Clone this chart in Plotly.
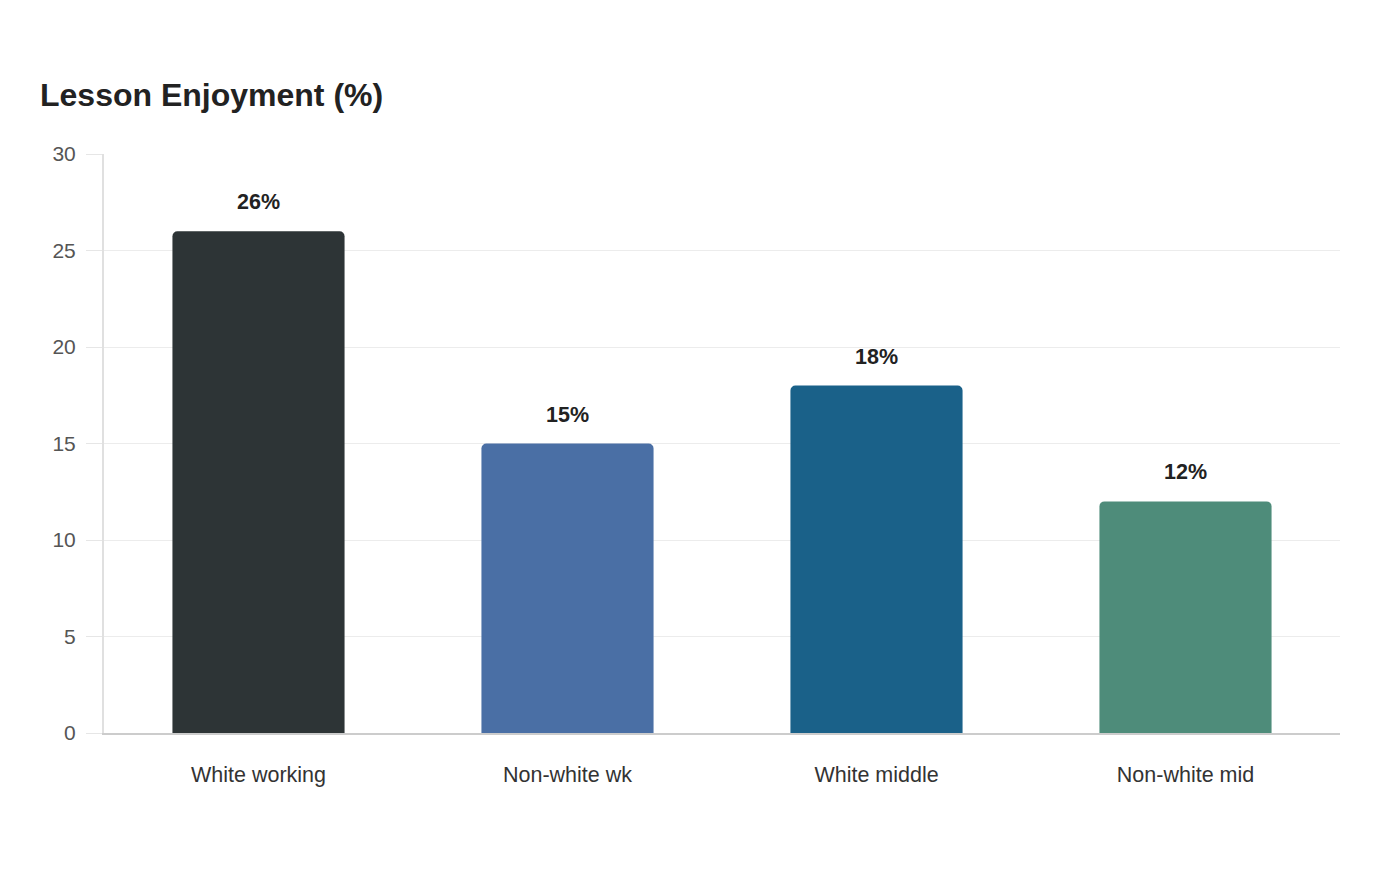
import plotly.graph_objects as go

categories = ["White working", "Non-white wk", "White middle", "Non-white mid"]
values = [26, 15, 18, 12]
labels = ["26%", "15%", "18%", "12%"]
colors = ["#2d3436", "#4a6fa5", "#1a6189", "#4e8c7a"]
y_ticks = [0, 5, 10, 15, 20, 25, 30]

FONT = "Liberation Sans, Arial, sans-serif"

fig = go.Figure()
fig.add_trace(go.Bar(
    x=categories, y=values, marker=dict(color=colors, line=dict(width=0)),
    hoverinfo="skip",
))
for c, v, t in zip(categories, values, labels):
    fig.add_annotation(x=c, y=v, text=t, showarrow=False, yanchor="middle", yshift=29,
                       font=dict(family=FONT, size=21.5, color="#222222", weight="bold"))

fig.update_layout(
    width=1400, height=880,
    paper_bgcolor="white", plot_bgcolor="white",
    margin=dict(l=104, r=60, t=154, b=147),
    bargap=0.443,
    barcornerradius=5,
    showlegend=False,
    font=dict(family=FONT),
    title=dict(text="<b>Lesson Enjoyment (%)</b>", x=40/1400, xref="container", xanchor="left",
               y=1-95/880, yref="container", yanchor="middle",
               font=dict(size=32, color="#222222", family=FONT)),
)
fig.update_yaxes(range=[0, 30], tickvals=y_ticks, showgrid=True, gridcolor="#ececec", gridwidth=1,
                 showline=True, linecolor="#e0e0e0", linewidth=2,
                 ticks="outside", ticklen=16, tickcolor="#e6e6e6", tickwidth=1,
                 ticklabelstandoff=6,
                 tickfont=dict(size=21, color="#555555"), zeroline=False)
fig.update_xaxes(showline=True, linecolor="#cccccc", linewidth=2, ticks="", showgrid=False,
                 tickfont=dict(size=21.5, color="#333333"), ticklabelstandoff=21)

fig.write_html("out.html")
